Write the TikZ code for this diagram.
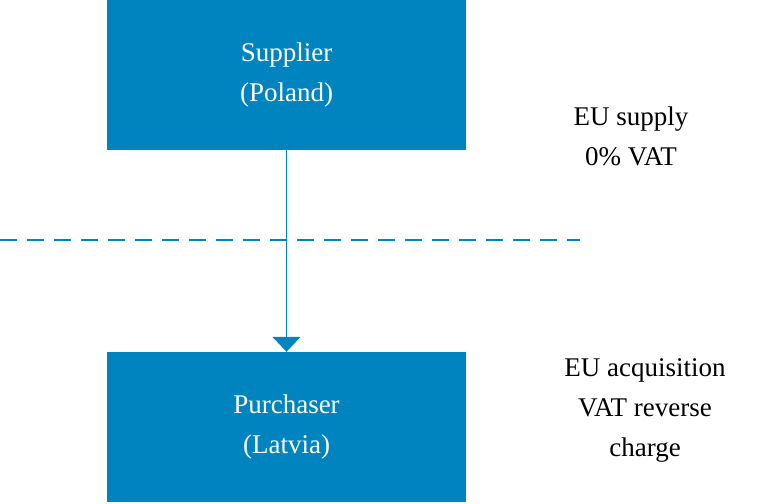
\documentclass[tikz,border=0pt]{standalone}
\usepackage{fontspec}
\setmainfont{Liberation Serif}
\usetikzlibrary{arrows.meta}
\definecolor{boxblue}{HTML}{0084BF}
\tikzset{
  party/.style={draw=none,fill=boxblue,text=white,minimum width=359pt,minimum height=150pt,align=center,font=\fontsize{27}{40}\selectfont},
  note/.style={align=center,font=\fontsize{27}{40}\selectfont},
}
\begin{document}
\begin{tikzpicture}[x=1pt,y=1pt]
\useasboundingbox (0,0) rectangle (762,503);
%%
\node (supplier) at (286.5,428) [party] {Supplier\\(Poland)};
\node (purchaser) at (286.5,76) [party] {Purchaser\\(Latvia)};
\node (supply) at (631,367) [note] {EU supply\\0\% VAT};
\node (acq) at (645,93) [note] {EU acquisition\\VAT reverse\\charge};
\coordinate (dashL) at (0,263);
\coordinate (dashR) at (580,263);
\draw [boxblue,line width=1.8pt,dash pattern=on 17pt off 10pt] (dashL) -- (dashR);
\draw [boxblue,line width=1.5pt,-{Triangle[width=28pt,length=15pt]}] (supplier) -- (purchaser);
%
\end{tikzpicture}
\end{document}
